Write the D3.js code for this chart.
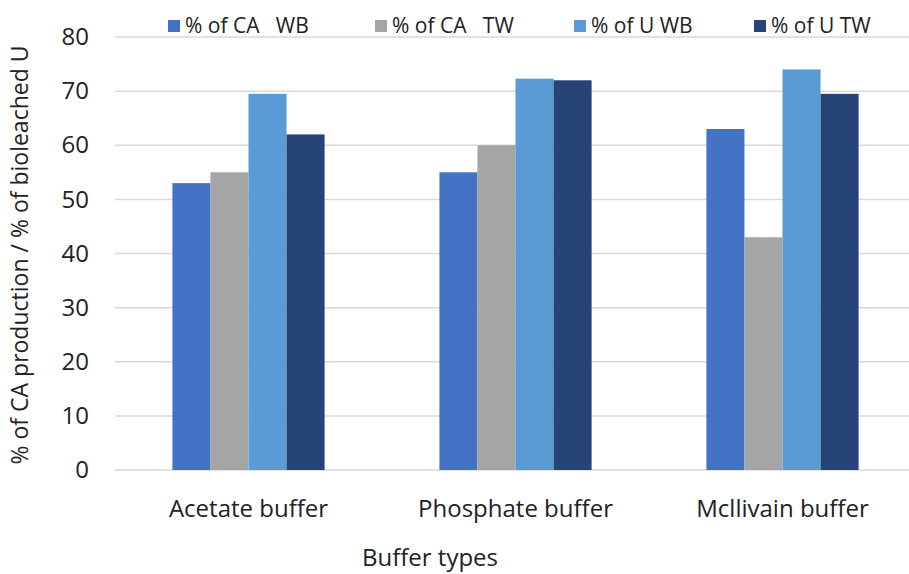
<!DOCTYPE html>
<html>
<head>
<meta charset="utf-8">
<script src="https://cdn.jsdelivr.net/npm/d3@7"></script>
<style>
  html, body { margin: 0; padding: 0; background: #fff; }
  svg { display: block; font-family: "Open Sans", "Noto Sans", sans-serif; }
</style>
</head>
<body>
<svg id="chart" width="909" height="574"></svg>
<script>
// Buffer types on the x axis
const categories = ["Acetate buffer", "Phosphate buffer", "Mcllivain buffer"];
// Series names as shown in the legend
const seriesNames = ["% of CA   WB", "% of CA   TW", "% of U WB", "% of U TW"];
// Values per series, one per buffer type
const caWB = [53, 55, 63];
const caTW = [55, 60, 43];
const uWB  = [69.5, 72.3, 74];
const uTW  = [62, 72, 69.5];
const yTicks = [0, 10, 20, 30, 40, 50, 60, 70, 80];
const colors = ["#4472C4", "#A5A5A5", "#5B9BD5", "#264478"];

const seriesValues = [caWB, caTW, uWB, uTW];
const rows = categories.map((c, i) => ({
  category: c,
  values: seriesNames.map((s, j) => ({ key: s, value: seriesValues[j][i], color: colors[j] }))
}));

const svg = d3.select("#chart");
const plot = { left: 115, right: 916, top: 37, bottom: 470 };

const y = d3.scaleLinear().domain([0, 80]).range([plot.bottom, plot.top]);
const x0 = d3.scaleBand().domain(categories).range([plot.left, plot.right])
  .paddingInner(0.43).paddingOuter(0.215);
const x1 = d3.scaleBand().domain(seriesNames).range([0, x0.bandwidth()]);

// Horizontal gridlines
svg.append("g")
  .selectAll("line")
  .data(yTicks)
  .join("line")
  .attr("x1", plot.left).attr("x2", plot.right)
  .attr("y1", d => y(d)).attr("y2", d => y(d))
  .attr("stroke", "#d9d9d9").attr("stroke-width", 1.5);

// Y axis tick labels
const yAxis = d3.axisLeft(y).tickValues(yTicks).tickSize(0).tickPadding(0);
const gy = svg.append("g").attr("transform", `translate(89,0)`).call(yAxis);
gy.select(".domain").remove();
gy.selectAll("text").attr("font-size", 24).attr("fill", "#222")
  .style("font-family", "'Open Sans', sans-serif");

// Bars
const groups = svg.append("g").selectAll("g")
  .data(rows)
  .join("g")
  .attr("transform", d => `translate(${x0(d.category)},0)`);
groups.selectAll("rect")
  .data(d => d.values)
  .join("rect")
  .attr("x", d => x1(d.key))
  .attr("width", x1.bandwidth())
  .attr("y", d => y(d.value))
  .attr("height", d => y(0) - y(d.value))
  .attr("fill", d => d.color);

// Category labels
const xAxis = d3.axisBottom(x0).tickSize(0).tickPadding(0);
const gx = svg.append("g").attr("transform", `translate(0,517)`).call(xAxis);
gx.select(".domain").remove();
gx.selectAll("text").attr("font-size", 24).attr("fill", "#222").attr("dy", 0)
  .style("font-family", "'Open Sans', sans-serif");

// Axis titles
svg.append("text")
  .attr("x", 430).attr("y", 566)
  .attr("text-anchor", "middle")
  .attr("font-size", 24).attr("fill", "#222")
  .text("Buffer types");
svg.append("text")
  .attr("transform", `translate(28,255) rotate(-90)`)
  .attr("text-anchor", "middle")
  .attr("font-size", 23).attr("fill", "#222")
  .text("% of CA production / % of bioleached U");

// Legend
const legendX = [168, 375, 574, 754];
const legend = svg.append("g").selectAll("g")
  .data(seriesNames)
  .join("g")
  .attr("transform", (d, i) => `translate(${legendX[i]},26)`);
legend.append("rect")
  .attr("x", 0).attr("y", -6).attr("width", 12).attr("height", 12)
  .attr("fill", (d, i) => colors[i]);
legend.append("text")
  .attr("x", 17).attr("y", 0).attr("dy", "0.35em")
  .attr("font-size", 21).attr("fill", "#222")
  .style("white-space", "pre")
  .text(d => d);
</script>
</body>
</html>
